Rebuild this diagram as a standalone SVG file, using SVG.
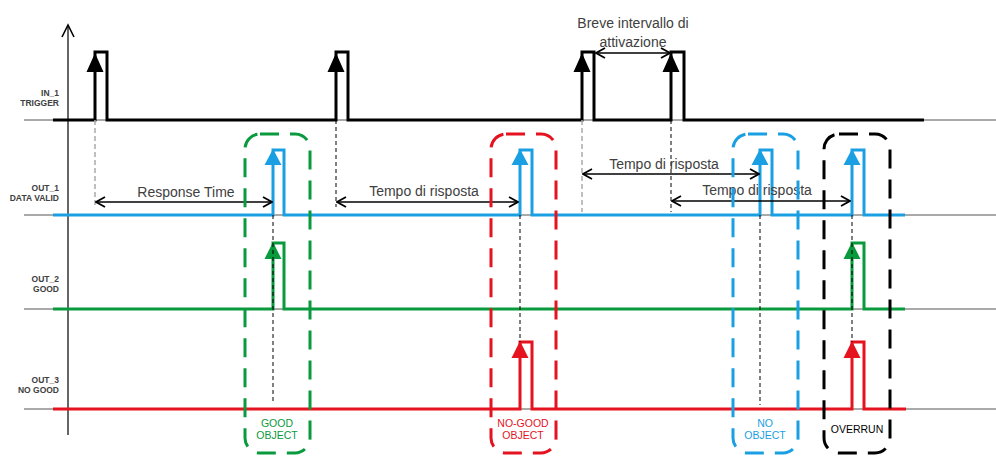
<svg xmlns="http://www.w3.org/2000/svg" width="996" height="457" viewBox="0 0 996 457">
<defs>
<style>
.base{stroke:#555;stroke-width:1;fill:none}
.sig{fill:none;stroke-width:3;stroke-linejoin:miter}
.k{stroke:#000}.b{stroke:#1aa0e2}.g{stroke:#0a9a3e}.r{stroke:#e5121f}
.dk{stroke:#000;stroke-width:1;stroke-dasharray:4 3;fill:none}
.dg{stroke:#aaa;stroke-width:1.5;stroke-dasharray:5 3;fill:none}
.box{fill:none;stroke-width:3;stroke-dasharray:19 11}
.meas{stroke:#000;stroke-width:1.3;fill:none;marker-start:url(#oa);marker-end:url(#oa)}
.lbl{font-family:"Liberation Sans",Arial,sans-serif;font-weight:bold;font-size:8.5px;fill:#404040;text-anchor:end}
.t{font-family:"Liberation Sans",Arial,sans-serif;font-size:14px;fill:#404040;text-anchor:middle}
.s{font-family:"Liberation Sans",Arial,sans-serif;font-size:10.5px;text-anchor:middle}
</style>
<marker id="oa" viewBox="0 0 12 12" refX="11" refY="6" markerWidth="12" markerHeight="12" markerUnits="userSpaceOnUse" orient="auto-start-reverse">
<path d="M2,1 L11,6 L2,11" fill="none" stroke="#000" stroke-width="1.8"/>
</marker>
</defs>

<g id="axis">
<path d="M68,435 V25" stroke="#000" stroke-width="1.2" fill="none"/>
<path d="M62,37 L68,25 L74,37" stroke="#000" stroke-width="1.6" fill="none"/>
</g>

<g id="baselines">
<path class="base" d="M24,120 H996 M24,215 H996 M24,309 H996 M24,409 H996"/>
</g>

<g id="labels">
<text class="lbl" x="59" y="96">IN_1</text>
<text class="lbl" x="59" y="106">TRIGGER</text>
<text class="lbl" x="59" y="191">OUT_1</text>
<text class="lbl" x="59" y="201">DATA VALID</text>
<text class="lbl" x="59" y="282">OUT_2</text>
<text class="lbl" x="59" y="292">GOOD</text>
<text class="lbl" x="59" y="383">OUT_3</text>
<text class="lbl" x="59" y="393">NO GOOD</text>
</g>

<g id="trigger">
<path class="sig k" d="M53,120 H95 V52 H107 V120 H336 V52 H348 V120 H582 V52 H594 V120 H671 V52 H684 V120 H924"/>
<path d="M86.5,72 L95,53 L103.5,72 Z M327.5,72 L336,53 L344.5,72 Z M573.5,72 L582,53 L590.5,72 Z M662.5,72 L671,53 L679.5,72 Z" fill="#000"/>
</g>

<g id="out1">
<path class="sig b" d="M53,215 H273 V150 H284 V215 H520 V150 H532 V215 H760 V150 H772 V215 H852 V150 H864 V215 H905"/>
<path d="M264.5,165 L273,149 L281.5,165 Z M511.5,165 L520,149 L528.5,165 Z M751.5,165 L760,149 L768.5,165 Z M843.5,165 L852,149 L860.5,165 Z" fill="#1aa0e2"/>
</g>

<g id="out2">
<path class="sig g" d="M53,309 H273 V243 H284 V309 H852 V243 H864 V309 H905"/>
<path d="M264.5,259 L273,242 L281.5,259 Z M843.5,259 L852,242 L860.5,259 Z" fill="#0a9a3e"/>
</g>

<g id="out3">
<path class="sig r" d="M53,409 H520 V342 H532 V409 H852 V342 H864 V409 H906"/>
<path d="M511.5,358 L520,341 L528.5,358 Z M843.5,358 L852,341 L860.5,358 Z" fill="#e5121f"/>
</g>

<g id="connectors">
<path class="dg" d="M95,120 V207 M582,120 V212"/>
<path class="dk" d="M336,120 V207 M671,120 V212 M273,215 V403 M520,215 V342 M760,215 V405 M852,215 V342"/>
<path class="meas" d="M96,202 H272"/>
<path class="meas" d="M337,202 H518"/>
<path class="meas" d="M583,174 H759"/>
<path class="meas" d="M672,201 H850"/>
<path class="meas" d="M596,53 H670"/>
</g>

<g id="texts">
<text class="t" x="186" y="197">Response Time</text>
<text class="t" x="424" y="196">Tempo di risposta</text>
<text class="t" x="664" y="169">Tempo di risposta</text>
<text class="t" x="757" y="195">Tempo di risposta</text>
<text class="t" x="633" y="28">Breve intervallo di</text>
<text class="t" x="633" y="47">attivazione</text>
</g>

<g id="good-object">
<rect class="box g" x="245" y="134" width="65" height="319" rx="15"/>
<text class="s" x="277" y="427" fill="#0a9a3e">GOOD</text>
<text class="s" x="277" y="439" fill="#0a9a3e">OBJECT</text>
</g>
<g id="nogood-object">
<rect class="box r" x="491" y="134" width="65" height="319" rx="15"/>
<text class="s" x="523" y="427" fill="#e5121f">NO-GOOD</text>
<text class="s" x="523" y="439" fill="#e5121f">OBJECT</text>
</g>
<g id="no-object">
<rect class="box b" x="733" y="134" width="65" height="319" rx="15"/>
<text class="s" x="765" y="427" fill="#1aa0e2">NO</text>
<text class="s" x="765" y="439" fill="#1aa0e2">OBJECT</text>
</g>
<g id="overrun">
<rect class="box k" x="824" y="134" width="66" height="319" rx="15"/>
<text class="s" x="857" y="433" fill="#000">OVERRUN</text>
</g>
</svg>
